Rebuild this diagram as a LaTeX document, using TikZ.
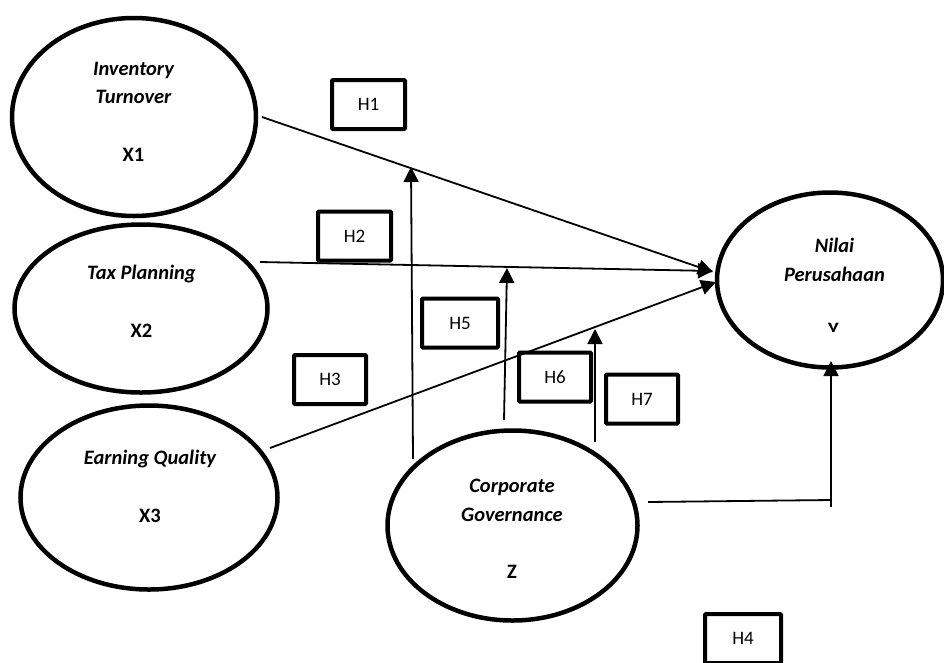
\documentclass[tikz,border=0pt]{standalone}
\usepackage{fontspec}
\setmainfont{Carlito}
\usetikzlibrary{shapes.geometric,arrows.meta}
\begin{document}
\begin{tikzpicture}[x=1pt,y=-1pt,
  lat/.style={draw,ellipse,line width=4.5pt,inner sep=0},
  hbox/.style={draw,line width=4pt,rounded corners=1pt,minimum width=73pt,minimum height=49pt,inner sep=0,font=\fontsize{19}{21}\selectfont},
  lbl/.style={font=\fontsize{20.5}{22}\selectfont\bfseries\itshape,inner sep=0,anchor=base},
  code/.style={font=\fontsize{20.5}{22}\selectfont\bfseries,inner sep=0,anchor=base},
  conn/.style={line width=1.8pt},
  arr/.style={conn,-{Triangle[length=15pt,width=15pt]}}]
\useasboundingbox (0,0) rectangle (944,662);
% latent variables
\node[lat,minimum width=244pt,minimum height=198pt] (x1) at (134,117) {};
\node[lat,minimum width=253pt,minimum height=168pt] (x2) at (141,308.5) {};
\node[lat,minimum width=257pt,minimum height=184pt] (x3) at (149,497.5) {};
\node[lat,minimum width=250pt,minimum height=190pt] (z) at (512.5,525.5) {};
\node[lat,minimum width=226pt,minimum height=175pt] (y) at (830,280) {};
% labels
\node[lbl] (x1a) at (133.5,75) {Inventory};
\node[lbl] (x1b) at (133.5,103) {Turnover};
\node[code] (x1c) at (133.5,161) {X1};
\node[lbl] (x2a) at (141.5,279) {Tax Planning};
\node[code] (x2c) at (141.5,337) {X2};
\node[lbl] (x3a) at (150,464) {Earning Quality};
\node[code] (x3c) at (150,522) {X3};
\node[lbl] (za) at (512,492) {Corporate};
\node[lbl] (zb) at (512,521) {Governance};
\node[code] (zc) at (512,578) {Z};
\node[lbl] (ya) at (834.5,252) {Nilai};
\node[lbl] (yb) at (834.5,281) {Perusahaan};
\begin{scope}
\clip (800,300) rectangle (870,331);
\node[code] (yc) at (833.5,336) {Y};
\end{scope}
% hypothesis boxes
\node[hbox] (h1) at (368.5,104.5) {H1};
\node[hbox] (h2) at (354.5,236) {H2};
\node[hbox,minimum width=76pt] (h5) at (460,323) {H5};
\node[hbox,minimum width=72pt] (h3) at (330,379.5) {H3};
\node[hbox,minimum width=72pt] (h6) at (555,377) {H6};
\node[hbox,minimum width=72pt] (h7) at (642,399) {H7};
\node[hbox,minimum width=76pt] (h4) at (743,638.5) {H4};
% connector end points
\coordinate (x1o) at (262,117);
\coordinate (x2o) at (260,262);
\coordinate (x3o) at (270,448);
\coordinate (y1) at (713,272);
\coordinate (y2) at (713,271);
\coordinate (y3) at (716,282);
\coordinate (z1) at (413,459);
\coordinate (m1) at (411,167);
\coordinate (z2) at (504,420);
\coordinate (m2) at (507,268);
\coordinate (z3) at (595,442);
\coordinate (m3) at (595,329);
\coordinate (zo) at (648,502);
\coordinate (cr) at (831,500);
\coordinate (cb) at (831,507);
\coordinate (yb4) at (831,361);
% connectors
\draw[arr] (x1o) -- (y1);
\draw[arr] (x2o) -- (y2);
\draw[arr] (x3o) -- (y3);
\draw[arr] (z1) -- (m1);
\draw[arr] (z2) -- (m2);
\draw[arr] (z3) -- (m3);
\draw[conn] (zo) -- (cr);
\draw[arr] (cb) -- (yb4);
\end{tikzpicture}
\end{document}
